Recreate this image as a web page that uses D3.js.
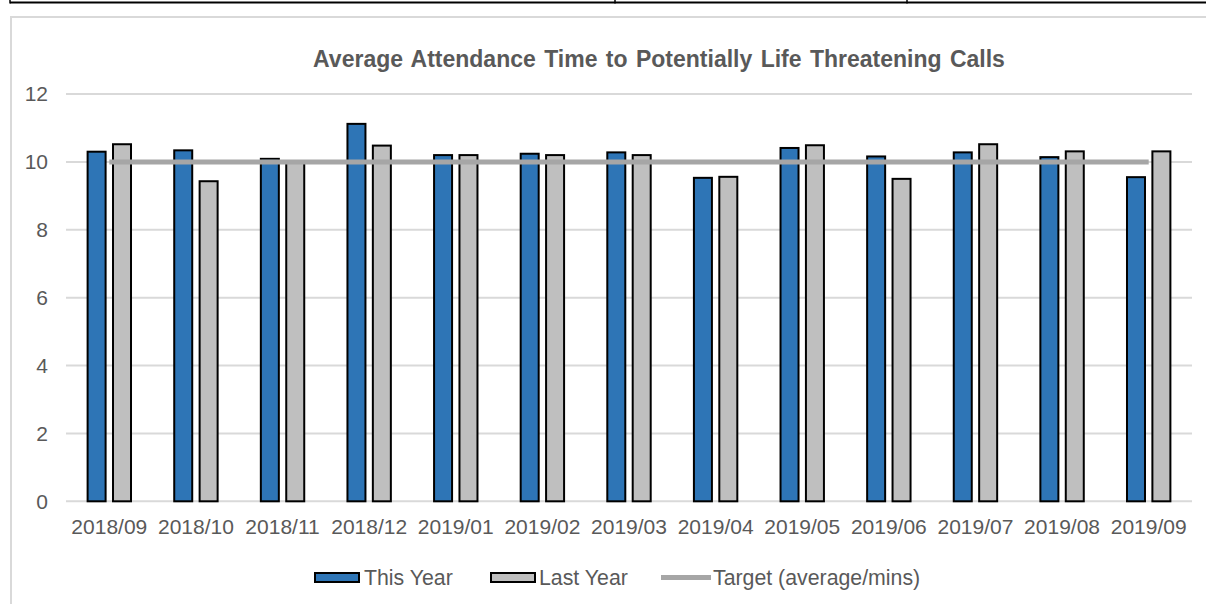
<!DOCTYPE html>
<html>
<head>
<meta charset="utf-8">
<script src="https://cdn.jsdelivr.net/npm/d3@7"></script>
<style>
  html, body { margin: 0; padding: 0; background: #ffffff; }
  svg { display: block; }
  text { font-family: "Liberation Sans", Arial, sans-serif; fill: #595959; }
</style>
</head>
<body>
<svg id="chart" width="1206" height="604"></svg>
<script>
// Monthly average attendance time (minutes)
const months = ["2018/09","2018/10","2018/11","2018/12","2019/01","2019/02","2019/03",
                "2019/04","2019/05","2019/06","2019/07","2019/08","2019/09"];
const thisYear = [10.30, 10.34, 10.09, 11.12, 10.20, 10.24, 10.28, 9.53, 10.41, 10.16, 10.28, 10.14, 9.55];
const lastYear = [10.52, 9.43, 9.98, 10.48, 10.20, 10.20, 10.20, 9.56, 10.49, 9.50, 10.52, 10.31, 10.31];
const target   = [10, 10, 10, 10, 10, 10, 10, 10, 10, 10, 10, 10, 10];
const yTicks   = [0, 2, 4, 6, 8, 10, 12];
const seriesNames = ["This Year", "Last Year", "Target (average/mins)"];
const chartTitle = "Average Attendance Time to Potentially Life Threatening Calls";

const colors = { thisYear: "#2E75B6", lastYear: "#BFBFBF", target: "#A6A6A6", grid: "#D9D9D9" };

const svg = d3.select("#chart");

// Page rule above the chart
svg.append("line").attr("x1", 10).attr("x2", 1206).attr("y1", 2.5).attr("y2", 2.5)
  .attr("stroke", "#000").attr("stroke-width", 2);
[10, 615, 907].forEach(xp => {
  svg.append("line").attr("x1", xp).attr("x2", xp).attr("y1", 0).attr("y2", 3.5)
    .attr("stroke", "#000").attr("stroke-width", 1.5);
});

// Chart frame
svg.append("rect").attr("x", 11).attr("y", 17).attr("width", 1210).attr("height", 600)
  .attr("fill", "#fff").attr("stroke", colors.grid).attr("stroke-width", 2);

const plot = { left: 66, right: 1192, top: 94, bottom: 501.3 };

const x = d3.scaleBand().domain(months).range([plot.left, plot.right]).padding(0);
const y = d3.scaleLinear().domain([0, 12]).range([plot.bottom, plot.top]);

const bw = x.bandwidth();
const x1 = d3.scaleBand().domain(["thisYear", "lastYear"])
  .range([bw / 2 - 22.7, bw / 2 + 22.7]).paddingInner(0.2126).paddingOuter(0);

// Gridlines
svg.append("g").selectAll("line").data(yTicks).join("line")
  .attr("x1", plot.left).attr("x2", plot.right)
  .attr("y1", d => y(d)).attr("y2", d => y(d))
  .attr("stroke", colors.grid).attr("stroke-width", 2);

// Y axis labels
const yAxis = d3.axisLeft(y).tickValues(yTicks).tickSize(0).tickPadding(0).tickFormat(d3.format("d"));
const gy = svg.append("g").attr("transform", "translate(48,0)").call(yAxis);
gy.select(".domain").remove();
gy.selectAll("text").attr("font-size", 21).attr("fill", "#595959")
  .attr("font-family", "Liberation Sans, Arial, sans-serif");

// X axis labels
const xAxis = d3.axisBottom(x).tickSize(0).tickPadding(0);
const gx = svg.append("g").attr("transform", `translate(0,${plot.bottom})`).call(xAxis);
gx.select(".domain").remove();
gx.selectAll("text").attr("font-size", 21).attr("fill", "#595959")
  .attr("font-family", "Liberation Sans, Arial, sans-serif")
  .attr("dy", null).attr("y", 32.5);

// Bars
const rows = months.map((m, i) => ({ month: m, thisYear: thisYear[i], lastYear: lastYear[i] }));
const groups = svg.append("g").selectAll("g").data(rows).join("g")
  .attr("transform", d => `translate(${x(d.month)},0)`);
groups.selectAll("rect")
  .data(d => ["thisYear", "lastYear"].map(k => ({ key: k, value: d[k] })))
  .join("rect")
  .attr("x", d => x1(d.key) + 1)
  .attr("width", x1.bandwidth() - 2)
  .attr("y", d => y(d.value))
  .attr("height", d => y(0) - y(d.value))
  .attr("fill", d => colors[d.key])
  .attr("stroke", "#000").attr("stroke-width", 2);

// Target line
const line = d3.line().x((d, i) => x(months[i]) + bw / 2).y(d => y(d));
svg.append("path").datum(target).attr("d", line)
  .attr("fill", "none").attr("stroke", colors.target).attr("stroke-width", 5);

// Title
svg.append("text").attr("x", 659).attr("y", 67).attr("text-anchor", "middle")
  .attr("font-size", 23).attr("font-weight", "bold").attr("word-spacing", 2)
  .text(chartTitle);

// Legend
const lg = svg.append("g");
const legendY = 577.5;
lg.append("rect").attr("x", 315).attr("y", legendY - 4.5).attr("width", 44).attr("height", 9)
  .attr("fill", colors.thisYear).attr("stroke", "#000").attr("stroke-width", 2);
lg.append("text").attr("x", 364).attr("y", 584.5).attr("font-size", 21.3).text(seriesNames[0]);
lg.append("rect").attr("x", 491).attr("y", legendY - 4.5).attr("width", 44).attr("height", 9)
  .attr("fill", colors.lastYear).attr("stroke", "#000").attr("stroke-width", 2);
lg.append("text").attr("x", 539).attr("y", 584.5).attr("font-size", 21.3).text(seriesNames[1]);
lg.append("line").attr("x1", 661).attr("x2", 711).attr("y1", legendY).attr("y2", legendY)
  .attr("stroke", colors.target).attr("stroke-width", 5);
lg.append("text").attr("x", 713).attr("y", 584.5).attr("font-size", 21.3).text(seriesNames[2]);
</script>
</body>
</html>
